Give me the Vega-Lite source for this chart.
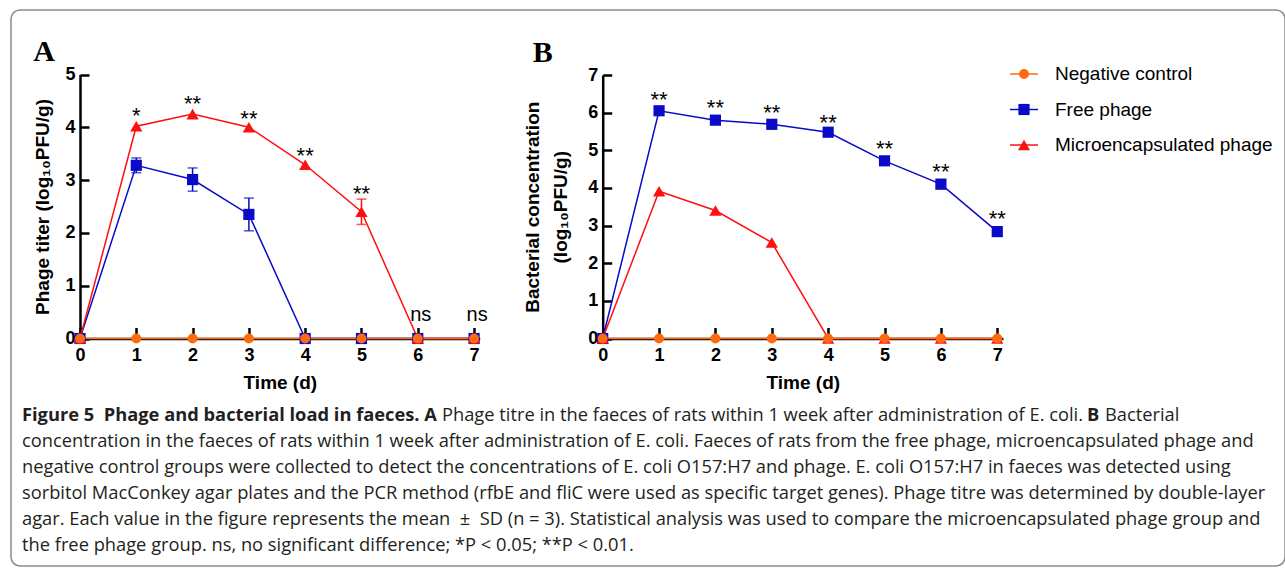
{
  "$schema": "https://vega.github.io/schema/vega-lite/v6.json",
  "width": 1274,
  "height": 556,
  "autosize": {"type": "none"},
  "padding": {"left": 11, "top": 10, "right": 0, "bottom": 3},
  "background": "white",
  "view": {"stroke": "#8c8c8c", "strokeWidth": 1.5, "cornerRadius": 9, "fill": "white"},
  "config": {"font": "Liberation Sans", "text": {"color": "black"}},
  "datasets": {
    "phageA": [
      {"group": "Free phage", "day": 0, "mean": 0, "sd": 0},
      {"group": "Free phage", "day": 1, "mean": 3.28, "sd": 0.14},
      {"group": "Free phage", "day": 2, "mean": 3.01, "sd": 0.22},
      {"group": "Free phage", "day": 3, "mean": 2.35, "sd": 0.31},
      {"group": "Free phage", "day": 4, "mean": 0, "sd": 0},
      {"group": "Free phage", "day": 5, "mean": 0, "sd": 0},
      {"group": "Free phage", "day": 6, "mean": 0, "sd": 0},
      {"group": "Free phage", "day": 7, "mean": 0, "sd": 0},
      {"group": "Microencapsulated phage", "day": 0, "mean": 0, "sd": 0},
      {"group": "Microencapsulated phage", "day": 1, "mean": 4.02, "sd": 0},
      {"group": "Microencapsulated phage", "day": 2, "mean": 4.25, "sd": 0},
      {"group": "Microencapsulated phage", "day": 3, "mean": 4.0, "sd": 0},
      {"group": "Microencapsulated phage", "day": 4, "mean": 3.29, "sd": 0},
      {"group": "Microencapsulated phage", "day": 5, "mean": 2.4, "sd": 0.24},
      {"group": "Microencapsulated phage", "day": 6, "mean": 0, "sd": 0},
      {"group": "Microencapsulated phage", "day": 7, "mean": 0, "sd": 0},
      {"group": "Negative control", "day": 0, "mean": 0, "sd": 0},
      {"group": "Negative control", "day": 1, "mean": 0, "sd": 0},
      {"group": "Negative control", "day": 2, "mean": 0, "sd": 0},
      {"group": "Negative control", "day": 3, "mean": 0, "sd": 0},
      {"group": "Negative control", "day": 4, "mean": 0, "sd": 0},
      {"group": "Negative control", "day": 5, "mean": 0, "sd": 0},
      {"group": "Negative control", "day": 6, "mean": 0, "sd": 0},
      {"group": "Negative control", "day": 7, "mean": 0, "sd": 0}
    ],
    "bactB": [
      {"group": "Free phage", "day": 0, "mean": 0, "sd": 0},
      {"group": "Free phage", "day": 1, "mean": 6.05, "sd": 0},
      {"group": "Free phage", "day": 2, "mean": 5.8, "sd": 0},
      {"group": "Free phage", "day": 3, "mean": 5.69, "sd": 0},
      {"group": "Free phage", "day": 4, "mean": 5.48, "sd": 0},
      {"group": "Free phage", "day": 5, "mean": 4.72, "sd": 0},
      {"group": "Free phage", "day": 6, "mean": 4.1, "sd": 0.12},
      {"group": "Free phage", "day": 7, "mean": 2.84, "sd": 0},
      {"group": "Microencapsulated phage", "day": 0, "mean": 0, "sd": 0},
      {"group": "Microencapsulated phage", "day": 1, "mean": 3.91, "sd": 0},
      {"group": "Microencapsulated phage", "day": 2, "mean": 3.4, "sd": 0},
      {"group": "Microencapsulated phage", "day": 3, "mean": 2.55, "sd": 0},
      {"group": "Microencapsulated phage", "day": 4, "mean": 0, "sd": 0},
      {"group": "Microencapsulated phage", "day": 5, "mean": 0, "sd": 0},
      {"group": "Microencapsulated phage", "day": 6, "mean": 0, "sd": 0},
      {"group": "Microencapsulated phage", "day": 7, "mean": 0, "sd": 0},
      {"group": "Negative control", "day": 0, "mean": 0, "sd": 0},
      {"group": "Negative control", "day": 1, "mean": 0, "sd": 0},
      {"group": "Negative control", "day": 2, "mean": 0, "sd": 0},
      {"group": "Negative control", "day": 3, "mean": 0, "sd": 0},
      {"group": "Negative control", "day": 4, "mean": 0, "sd": 0},
      {"group": "Negative control", "day": 5, "mean": 0, "sd": 0},
      {"group": "Negative control", "day": 6, "mean": 0, "sd": 0},
      {"group": "Negative control", "day": 7, "mean": 0, "sd": 0}
    ],
    "sigA": [
      {"day": 1, "label": "*", "y": 4.32},
      {"day": 2, "label": "**", "y": 4.55},
      {"day": 3, "label": "**", "y": 4.27},
      {"day": 4, "label": "**", "y": 3.57},
      {"day": 5, "label": "**", "y": 2.85}
    ],
    "nsA": [
      {"day": 6, "label": "ns", "y": 0.44},
      {"day": 7, "label": "ns", "y": 0.44}
    ],
    "sigB": [
      {"day": 1, "label": "**", "y": 6.5},
      {"day": 2, "label": "**", "y": 6.27},
      {"day": 3, "label": "**", "y": 6.15},
      {"day": 4, "label": "**", "y": 5.88},
      {"day": 5, "label": "**", "y": 5.19},
      {"day": 6, "label": "**", "y": 4.59},
      {"day": 7, "label": "**", "y": 3.33}
    ],
    "legend": [
      {"group": "Negative control"},
      {"group": "Free phage"},
      {"group": "Microencapsulated phage"}
    ],
    "caption": [
      {"line": 2, "text": "concentration in the faeces of rats within 1 week after administration of E. coli. Faeces of rats from the free phage, microencapsulated phage and"},
      {"line": 3, "text": "negative control groups were collected to detect the concentrations of E. coli O157:H7 and phage. E. coli O157:H7 in faeces was detected using"},
      {"line": 4, "text": "sorbitol MacConkey agar plates and the PCR method (rfbE and fliC were used as specific target genes). Phage titre was determined by double-layer"},
      {"line": 5, "text": "agar. Each value in the figure represents the mean \u00a0±\u00a0 SD (n = 3). Statistical analysis was used to compare the microencapsulated phage group and"},
      {"line": 6, "text": "the free phage group. ns, no significant difference; *P < 0.05; **P < 0.01."}
    ]
  },
  "resolve": {"scale": {"x": "independent", "y": "independent"}, "axis": {"x": "independent", "y": "independent"}},
  "layer": [
    {
      "layer": [
        {
          "data": {"name": "phageA"},
          "mark": {"type": "line", "strokeWidth": 1.5},
          "encoding": {
            "x": {"field": "day", "type": "quantitative", "title": "Time (d)",
              "scale": {"domain": [0, 7.1], "range": [69, 468.7], "nice": false, "zero": false},
              "axis": {"orient": "bottom", "offset": -227.5, "values": [0, 1, 2, 3, 4, 5, 6, 7], "format": "d", "grid": false,
                "domainColor": "black", "domainWidth": 2.5, "tickColor": "black", "tickWidth": 2.5, "tickSize": -11, "labelPadding": 19, "labelFlush": false,
                "labelFont": "Liberation Sans", "labelFontSize": 18, "labelFontWeight": "bold", "labelColor": "black",
                "titleFont": "Liberation Sans", "titleFontSize": 19, "titleFontWeight": "bold", "titleColor": "black", "titlePadding": 9}},
            "y": {"field": "mean", "type": "quantitative", "title": "Phage titer (log₁₀PFU/g)",
              "scale": {"domain": [0, 5], "range": [328.5, 64.5], "nice": false, "zero": false},
              "axis": {"orient": "left", "offset": -69, "values": [0, 1, 2, 3, 4, 5], "format": "d", "grid": false,
                "domainColor": "black", "domainWidth": 2.5, "tickColor": "black", "tickWidth": 2.5, "tickSize": -9, "labelPadding": 14,
                "labelFont": "Liberation Sans", "labelFontSize": 18, "labelFontWeight": "bold", "labelColor": "black",
                "titleFont": "Liberation Sans", "titleFontSize": 19, "titleFontWeight": "bold", "titleColor": "black", "titlePadding": 12}},
            "color": {"field": "group", "type": "nominal",
              "scale": {"domain": ["Negative control", "Free phage", "Microencapsulated phage"], "range": ["#ff6a10", "#0a0ac8", "#ff0f0f"]},
              "legend": null}
          }
        },
        {
          "data": {"name": "phageA"},
          "transform": [{"filter": "datum.sd > 0"}],
          "mark": {"type": "errorbar", "ticks": {"size": 10}, "thickness": 1.5},
          "encoding": {
            "x": {"field": "day", "type": "quantitative", "title": "Time (d)"},
            "y": {"field": "mean", "type": "quantitative", "title": "Phage titer (log₁₀PFU/g)"},
            "yError": {"field": "sd"},
            "color": {"field": "group", "type": "nominal", "legend": null}
          }
        },
        {
          "data": {"name": "phageA"},
          "mark": {"type": "point", "filled": true, "opacity": 1},
          "encoding": {
            "x": {"field": "day", "type": "quantitative", "title": "Time (d)"},
            "y": {"field": "mean", "type": "quantitative", "title": "Phage titer (log₁₀PFU/g)"},
            "color": {"field": "group", "type": "nominal", "legend": null},
            "shape": {"field": "group", "type": "nominal",
              "scale": {"domain": ["Negative control", "Free phage", "Microencapsulated phage"], "range": ["circle", "square", "triangle-up"]},
              "legend": null},
            "size": {"field": "group", "type": "nominal",
              "scale": {"domain": ["Negative control", "Free phage", "Microencapsulated phage"], "range": [100, 150, 150]},
              "legend": null}
          }
        },
        {
          "data": {"name": "sigA"},
          "mark": {"type": "text", "fontSize": 22, "baseline": "middle", "dy": 6},
          "encoding": {
            "x": {"field": "day", "type": "quantitative", "title": "Time (d)"},
            "y": {"field": "y", "type": "quantitative", "title": "Phage titer (log₁₀PFU/g)"},
            "text": {"field": "label"}
          }
        },
        {
          "data": {"name": "nsA"},
          "mark": {"type": "text", "fontSize": 20, "baseline": "middle", "dx": 3},
          "encoding": {
            "x": {"field": "day", "type": "quantitative", "title": "Time (d)"},
            "y": {"field": "y", "type": "quantitative", "title": "Phage titer (log₁₀PFU/g)"},
            "text": {"field": "label"}
          }
        },
        {
          "data": {"values": [{"panel": "A"}]},
          "mark": {"type": "text", "font": "Liberation Serif", "fontWeight": "bold", "fontSize": 30, "align": "left", "baseline": "alphabetic"},
          "encoding": {
            "x": {"datum": -0.83, "type": "quantitative", "title": "Time (d)"},
            "y": {"datum": 5.256, "type": "quantitative", "title": "Phage titer (log₁₀PFU/g)"},
            "text": {"field": "panel"}
          }
        }
      ]
    },
    {
      "layer": [
        {
          "data": {"name": "bactB"},
          "mark": {"type": "line", "strokeWidth": 1.5},
          "encoding": {
            "x": {"field": "day", "type": "quantitative", "title": "Time (d)",
              "scale": {"domain": [0, 7.1], "range": [591.7, 991.9], "nice": false, "zero": false},
              "axis": {"orient": "bottom", "offset": -227.5, "values": [0, 1, 2, 3, 4, 5, 6, 7], "format": "d", "grid": false,
                "domainColor": "black", "domainWidth": 2.5, "tickColor": "black", "tickWidth": 2.5, "tickSize": -11, "labelPadding": 19, "labelFlush": false,
                "labelFont": "Liberation Sans", "labelFontSize": 18, "labelFontWeight": "bold", "labelColor": "black",
                "titleFont": "Liberation Sans", "titleFontSize": 19, "titleFontWeight": "bold", "titleColor": "black", "titlePadding": 9}},
            "y": {"field": "mean", "type": "quantitative", "title": ["Bacterial concentration", "(log₁₀PFU/g)"],
              "scale": {"domain": [0, 7], "range": [328.5, 65], "nice": false, "zero": false},
              "axis": {"orient": "left", "offset": -591.7, "values": [0, 1, 2, 3, 4, 5, 6, 7], "format": "d", "grid": false,
                "domainColor": "black", "domainWidth": 2.5, "tickColor": "black", "tickWidth": 2.5, "tickSize": -9, "labelPadding": 14,
                "labelFont": "Liberation Sans", "labelFontSize": 18, "labelFontWeight": "bold", "labelColor": "black",
                "titleFont": "Liberation Sans", "titleFontSize": 19, "titleFontWeight": "bold", "titleColor": "black", "titlePadding": 17, "titleLineHeight": 28}},
            "color": {"field": "group", "type": "nominal", "legend": null}
          }
        },
        {
          "data": {"name": "bactB"},
          "transform": [{"filter": "datum.sd > 0"}],
          "mark": {"type": "errorbar", "ticks": {"size": 10}, "thickness": 1.5},
          "encoding": {
            "x": {"field": "day", "type": "quantitative", "title": "Time (d)"},
            "y": {"field": "mean", "type": "quantitative", "title": ["Bacterial concentration", "(log₁₀PFU/g)"]},
            "yError": {"field": "sd"},
            "color": {"field": "group", "type": "nominal", "legend": null}
          }
        },
        {
          "data": {"name": "bactB"},
          "mark": {"type": "point", "filled": true, "opacity": 1},
          "encoding": {
            "x": {"field": "day", "type": "quantitative", "title": "Time (d)"},
            "y": {"field": "mean", "type": "quantitative", "title": ["Bacterial concentration", "(log₁₀PFU/g)"]},
            "color": {"field": "group", "type": "nominal", "legend": null},
            "shape": {"field": "group", "type": "nominal", "legend": null},
            "size": {"field": "group", "type": "nominal", "legend": null}
          }
        },
        {
          "data": {"name": "sigB"},
          "mark": {"type": "text", "fontSize": 22, "baseline": "middle", "dy": 6},
          "encoding": {
            "x": {"field": "day", "type": "quantitative", "title": "Time (d)"},
            "y": {"field": "y", "type": "quantitative", "title": ["Bacterial concentration", "(log₁₀PFU/g)"]},
            "text": {"field": "label"}
          }
        },
        {
          "data": {"values": [{"panel": "B"}]},
          "mark": {"type": "text", "font": "Liberation Serif", "fontWeight": "bold", "fontSize": 30, "align": "left", "baseline": "alphabetic"},
          "encoding": {
            "x": {"datum": -1.24, "type": "quantitative", "title": "Time (d)"},
            "y": {"datum": 7.35, "type": "quantitative", "title": ["Bacterial concentration", "(log₁₀PFU/g)"]},
            "text": {"field": "panel"}
          }
        }
      ]
    },
    {
      "data": {"name": "legend"},
      "encoding": {
        "y": {"field": "group", "type": "nominal", "sort": ["Negative control", "Free phage", "Microencapsulated phage"],
          "scale": {"type": "point", "range": [64, 135], "padding": 0}, "axis": null}
      },
      "layer": [
        {
          "mark": {"type": "rule", "strokeWidth": 1.5},
          "encoding": {
            "x": {"datum": 0, "type": "quantitative", "scale": {"domain": [0, 1], "range": [999, 1027], "nice": false, "zero": false}, "axis": null},
            "x2": {"datum": 1},
            "color": {"field": "group", "type": "nominal", "legend": null}
          }
        },
        {
          "mark": {"type": "point", "filled": true, "opacity": 1},
          "encoding": {
            "x": {"datum": 0.5, "type": "quantitative"},
            "color": {"field": "group", "type": "nominal", "legend": null},
            "shape": {"field": "group", "type": "nominal", "legend": null},
            "size": {"field": "group", "type": "nominal", "legend": null}
          }
        },
        {
          "mark": {"type": "text", "align": "left", "baseline": "middle", "dx": 17, "fontSize": 19, "font": "Liberation Sans"},
          "encoding": {
            "x": {"datum": 1, "type": "quantitative"},
            "text": {"field": "group"}
          }
        }
      ]
    },
    {
      "layer": [
        {
          "data": {"name": "caption"},
          "mark": {"type": "text", "align": "left", "baseline": "middle", "font": "Open Sans", "fontSize": 18.3, "color": "#231f20"},
          "encoding": {
            "x": {"datum": 0, "type": "quantitative", "scale": {"domain": [0, 1], "range": [11, 1263], "nice": false, "zero": false}, "axis": null},
            "y": {"field": "line", "type": "quantitative", "scale": {"domain": [1, 6], "range": [406, 536], "nice": false, "zero": false}, "axis": null},
            "text": {"field": "text"}
          }
        },
        {
          "data": {"values": [{"line": 1, "text": "Figure 5\u00a0 Phage and bacterial load in faeces. A"}]},
          "mark": {"type": "text", "align": "left", "baseline": "middle", "font": "Open Sans", "fontSize": 18.3, "fontWeight": "bold", "color": "#231f20"},
          "encoding": {
            "x": {"datum": 0, "type": "quantitative"},
            "y": {"field": "line", "type": "quantitative"},
            "text": {"field": "text"}
          }
        },
        {
          "data": {"values": [{"line": 1, "text": "Phage titre in the faeces of rats within 1 week after administration of E. coli."}]},
          "mark": {"type": "text", "align": "left", "baseline": "middle", "font": "Open Sans", "fontSize": 18.3, "color": "#231f20", "dx": 420},
          "encoding": {
            "x": {"datum": 0, "type": "quantitative"},
            "y": {"field": "line", "type": "quantitative"},
            "text": {"field": "text"}
          }
        },
        {
          "data": {"values": [{"line": 1, "text": "B"}]},
          "mark": {"type": "text", "align": "left", "baseline": "middle", "font": "Open Sans", "fontSize": 18.3, "fontWeight": "bold", "color": "#231f20", "dx": 1065},
          "encoding": {
            "x": {"datum": 0, "type": "quantitative"},
            "y": {"field": "line", "type": "quantitative"},
            "text": {"field": "text"}
          }
        },
        {
          "data": {"values": [{"line": 1, "text": "Bacterial"}]},
          "mark": {"type": "text", "align": "left", "baseline": "middle", "font": "Open Sans", "fontSize": 18.3, "color": "#231f20", "dx": 1083},
          "encoding": {
            "x": {"datum": 0, "type": "quantitative"},
            "y": {"field": "line", "type": "quantitative"},
            "text": {"field": "text"}
          }
        }
      ]
    }
  ]
}
